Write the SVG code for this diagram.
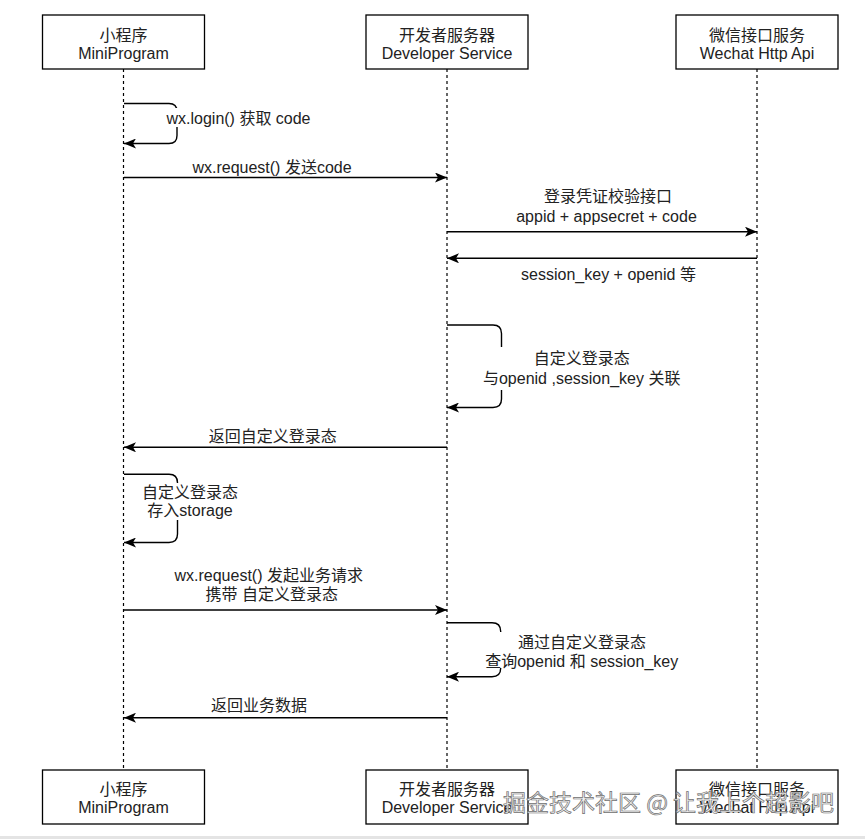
<svg xmlns="http://www.w3.org/2000/svg" width="865" height="839" viewBox="0 0 865 839">
  <style>
    .box { fill: #fff; stroke: #000; stroke-width: 1.3; }
    .t { font-family: "Liberation Sans", "Noto Sans CJK SC", sans-serif; font-size: 16px; fill: #222; text-anchor: middle; }
    .life { stroke: #000; stroke-width: 1.2; stroke-dasharray: 3 3; fill: none; }
    .msg { stroke: #000; stroke-width: 1.4; fill: none; marker-end: url(#arr); }
    .bg { fill: #fff; }
    .wm { font-family: "Noto Sans CJK SC", "Liberation Sans", sans-serif; font-size: 23px; fill: #f2f2f2; stroke: #6e6e6e; stroke-width: 0.7; }
  </style>
  <defs>
    <marker id="arr" viewBox="0 0 12 10" refX="12" refY="5" markerWidth="12" markerHeight="10" orient="auto" markerUnits="userSpaceOnUse">
      <path d="M0,0 L12,5 L0,10 L3,5 Z" fill="#000"/>
    </marker>
  </defs>
  <rect x="0" y="0" width="865" height="839" fill="#fff"/>
  <rect x="0" y="836" width="865" height="3" fill="#e4e4e4"/>

  <g id="lifelines">
    <line class="life" x1="123.5" y1="69" x2="123.5" y2="770"/>
    <line class="life" x1="447" y1="69" x2="447" y2="770"/>
    <line class="life" x1="757" y1="69" x2="757" y2="770"/>
  </g>

  <g id="connectors">
    <path class="msg" d="M124,103.5 H169 Q177,103.5 177,111.5 V135.5 Q177,143.5 169,143.5 H124"/>
    <path class="msg" d="M124,177.5 H447"/>
    <path class="msg" d="M447,231.7 H757"/>
    <path class="msg" d="M757,258.3 H447"/>
    <path class="msg" d="M447,325 H493 Q501.5,325 501.5,333.5 V399 Q501.5,407.5 493,407.5 H447"/>
    <path class="msg" d="M447,447.3 H124"/>
    <path class="msg" d="M124,474.3 H169 Q177.5,474.3 177.5,482.8 V534 Q177.5,542.5 169,542.5 H124"/>
    <path class="msg" d="M124,610 H447"/>
    <path class="msg" d="M447,622.7 H492 Q500.7,622.7 500.7,631.4 V668 Q500.7,676.7 492,676.7 H447"/>
    <path class="msg" d="M447,717.7 H124"/>
  </g>

  <g id="labels">
    <rect class="bg" x="165" y="108" width="148" height="19"/>
    <text class="t" x="238.5" y="123.5">wx.login() 获取 code</text>
    <text class="t" x="272" y="172.5">wx.request() 发送code</text>
    <text class="t" x="608" y="202">登录凭证校验接口</text>
    <text class="t" x="606.5" y="221.5">appid + appsecret + code</text>
    <text class="t" x="608.5" y="279.5">session_key + openid 等</text>
    <rect class="bg" x="480" y="347" width="203" height="43"/>
    <text class="t" x="581.7" y="364">自定义登录态</text>
    <text class="t" x="581.7" y="384">与openid ,session_key 关联</text>
    <text class="t" x="272.7" y="441.5">返回自定义登录态</text>
    <rect class="bg" x="141" y="483" width="98" height="37"/>
    <text class="t" x="190" y="498">自定义登录态</text>
    <text class="t" x="190" y="516">存入storage</text>
    <text class="t" x="268.7" y="580.5">wx.request() 发起业务请求</text>
    <text class="t" x="271.7" y="600">携带 自定义登录态</text>
    <rect class="bg" x="484" y="632" width="196" height="36"/>
    <text class="t" x="582" y="648">通过自定义登录态</text>
    <text class="t" x="581.7" y="666.5">查询openid 和 session_key</text>
    <text class="t" x="259" y="711">返回业务数据</text>
  </g>

  <g id="mini-top">
    <rect class="box" x="42.5" y="15" width="162" height="54"/>
    <text class="t" x="123.5" y="40.5">小程序</text>
    <text class="t" x="123.5" y="58.5">MiniProgram</text>
  </g>
  <g id="dev-top">
    <rect class="box" x="366" y="15" width="162" height="54"/>
    <text class="t" x="447" y="40.5">开发者服务器</text>
    <text class="t" x="447" y="58.5">Developer Service</text>
  </g>
  <g id="wx-top">
    <rect class="box" x="676" y="15" width="162" height="54"/>
    <text class="t" x="757" y="40.5">微信接口服务</text>
    <text class="t" x="757" y="58.5">Wechat Http Api</text>
  </g>
  <g id="mini-bottom">
    <rect class="box" x="42.5" y="770" width="162" height="54"/>
    <text class="t" x="123.5" y="795">小程序</text>
    <text class="t" x="123.5" y="813">MiniProgram</text>
  </g>
  <g id="dev-bottom">
    <rect class="box" x="366" y="770" width="162" height="54"/>
    <text class="t" x="447" y="795">开发者服务器</text>
    <text class="t" x="447" y="813">Developer Service</text>
  </g>
  <g id="wx-bottom">
    <rect class="box" x="676" y="770" width="162" height="54"/>
    <text class="t" x="757" y="795">微信接口服务</text>
    <text class="t" x="757" y="813">Wechat Http Api</text>
  </g>

  <text class="wm" x="503" y="811">掘金技术社区 @ 让我上个超影吧</text>
</svg>
